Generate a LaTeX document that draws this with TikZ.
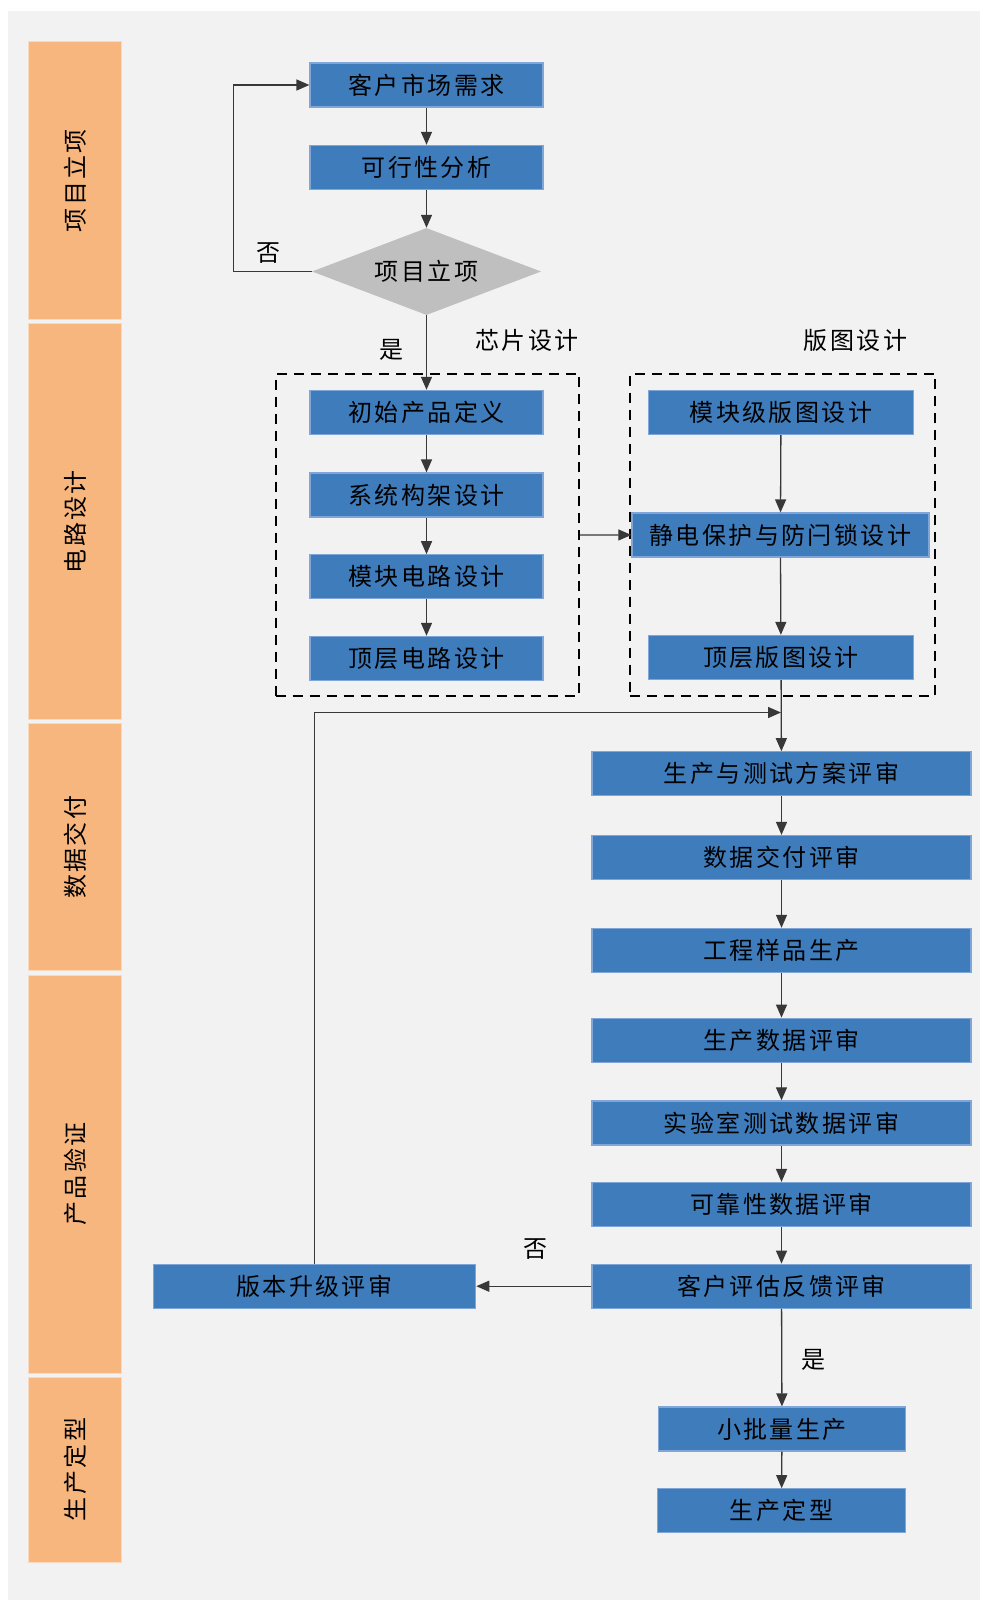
\documentclass[tikz,border=0pt]{standalone}
\usepackage{fontspec}
\newfontfamily\cjk[LetterSpace=10]{Noto Sans CJK SC}
\usepackage{tikz}
\usetikzlibrary{calc, shapes, shapes.geometric, arrows.meta, positioning}

\definecolor{bgGray}{HTML}{F2F2F2}
\definecolor{laneOrange}{HTML}{F8B67F}
\definecolor{laneEdge}{HTML}{FBD9BD}
\definecolor{boxBlue}{HTML}{3E7CBC}
\definecolor{boxEdge}{HTML}{7FA6D6}
\definecolor{decGray}{HTML}{BFBFBF}
\definecolor{lineGray}{HTML}{383838}

\begin{document}
\begin{tikzpicture}[x=1pt, y=-1pt,
    txt/.style={font=\cjk\fontsize{24}{24}\selectfont, text=black},
    blk/.style={txt, draw=boxEdge, line width=1.2pt, fill=boxBlue, minimum height=44pt, inner sep=0pt},
    lane/.style={txt, draw=laneEdge, line width=1pt, fill=laneOrange, minimum height=92.5pt, inner sep=0pt, rotate=90},
    dec/.style={txt, diamond, aspect=2.63, fill=decGray, minimum width=229pt, minimum height=87pt, inner sep=0pt},
    dashbox/.style={draw=black, line width=2pt, dash pattern=on 10pt off 7pt, minimum height=322.6pt, inner sep=0pt},
    arr/.style={draw=lineGray, line width=1.3pt, -{Triangle[length=13pt,width=11pt]}}]
        \pgfmathsetmacro{\xl}{426.5}
        \pgfmathsetmacro{\xr}{781.5}
        \pgfmathsetmacro{\wl}{233}
        \pgfmathsetmacro{\wr}{379}
        \useasboundingbox (0,0) rectangle (980,1600);
        \fill[bgGray] (8,11) rectangle (980,1600);
        % stage lanes
        \foreach \nm/\cy/\len/\lbl in {a/180.7/277.5/项目立项, b/521.7/396/电路设计,
            c/847.3/247/数据交付, d/1174/398/产品验证, e/1469.5/185/生产定型}
            \node[lane, minimum width=\len pt] (lane\nm) at (75.2,\cy) {\lbl};
        % project start
        \node[blk, minimum width=\wl pt] (need) at (\xl,85) {客户市场需求};
        \node[blk, minimum width=\wl pt] (feas) at (\xl,167.4) {可行性分析};
        \node[dec] (lix) at (\xl,271.5) {项目立项};
        \coordinate (loop) at (233.8,271.5);
        \node[txt] (no1) at (268.5,253) {否};
        \node[txt] (yes1) at (391,350) {是};
        % circuit design
        \node[dashbox, minimum width=303.2pt] (chip) at (427.2,534.9) {};
        \node[dashbox, minimum width=305.2pt] (layout) at (782.4,534.9) {};
        \node[txt] (chiplbl) at (527,340) {芯片设计};
        \node[txt] (laylbl) at (855.5,340) {版图设计};
        \node[blk, minimum width=\wl pt] (init) at (\xl,412.4) {初始产品定义};
        \node[blk, minimum width=\wl pt] (sys) at (\xl,495) {系统构架设计};
        \node[blk, minimum width=\wl pt] (mod) at (\xl,576.8) {模块电路设计};
        \node[blk, minimum width=\wl pt] (top) at (\xl,658.4) {顶层电路设计};
        \node[blk, minimum width=265.6pt] (mlay) at (781,412.4) {模块级版图设计};
        \node[blk, minimum width=297pt] (esd) at (780.4,535) {静电保护与防闩锁设计};
        \node[blk, minimum width=265.6pt] (tlay) at (781,657.4) {顶层版图设计};
        % data delivery and verification
        \node[blk, minimum width=\wr pt] (plan) at (\xr,773.8) {生产与测试方案评审};
        \node[blk, minimum width=\wr pt] (deliv) at (\xr,857.5) {数据交付评审};
        \node[blk, minimum width=\wr pt] (eng) at (\xr,950.4) {工程样品生产};
        \node[blk, minimum width=\wr pt] (pdata) at (\xr,1040.2) {生产数据评审};
        \node[blk, minimum width=\wr pt] (lab) at (\xr,1122.9) {实验室测试数据评审};
        \node[blk, minimum width=\wr pt] (rel) at (\xr,1204.5) {可靠性数据评审};
        \node[blk, minimum width=\wr pt] (cust) at (\xr,1286.2) {客户评估反馈评审};
        \node[blk, minimum width=322.6pt] (ver) at (314.4,1286.2) {版本升级评审};
        \coordinate (fb) at (781,712.5);
        \node[txt] (no2) at (535,1249) {否};
        \node[txt] (yes2) at (813.6,1359.8) {是};
        % final production
        \node[blk, minimum width=247pt] (small) at (782,1429) {小批量生产};
        \node[blk, minimum width=248pt] (final) at (781.5,1510.8) {生产定型};
        % connectors
        \foreach \a/\b in {need/feas, init/sys, sys/mod, mod/top, mlay/esd, esd/tlay,
            tlay/plan, plan/deliv, deliv/eng, eng/pdata, pdata/lab, lab/rel, rel/cust, small/final}
            \draw[arr] (\a) -- (\b);
        \draw[arr] (feas) -- (lix);
        \draw[arr] (lix.south) -- (init);
        \draw[arr] (lix.west) -- (loop) |- (need.west);
        \draw[arr] (chip.east) -- (esd.west);
        \draw[arr] (ver.north) |- (fb);
        \draw[arr] (cust.west) -- (ver.east);
        \draw[arr] (cust) -- (small);
    \end{tikzpicture}
\end{document}
